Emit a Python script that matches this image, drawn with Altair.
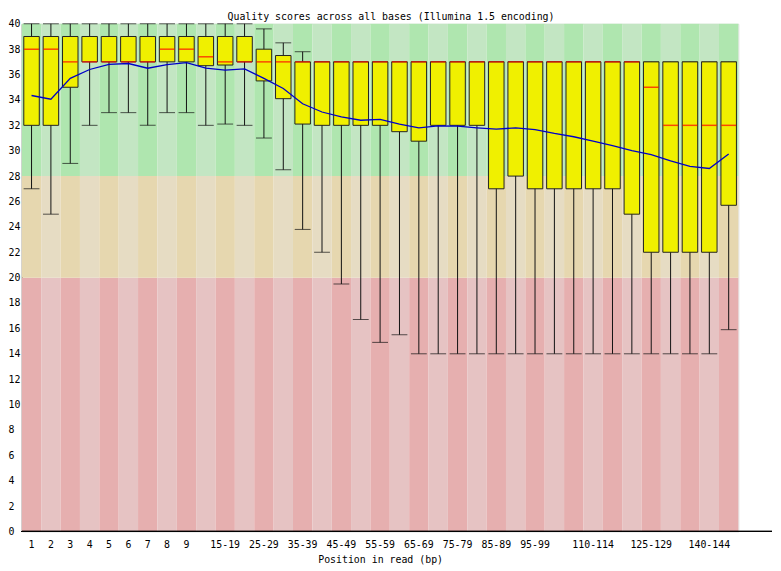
import json
import altair as alt
import pandas as pd

# ---------------- data ----------------
positions = ["1", "2", "3", "4", "5", "6", "7", "8", "9",
             "10-14", "15-19", "20-24", "25-29", "30-34", "35-39", "40-44",
             "45-49", "50-54", "55-59", "60-64", "65-69", "70-74", "75-79",
             "80-84", "85-89", "90-94", "95-99", "100-104", "105-109",
             "110-114", "115-119", "120-124", "125-129", "130-134",
             "135-139", "140-144", "145-149"]

shown_labels = ["1", "2", "3", "4", "5", "6", "7", "8", "9", "15-19", "25-29",
                "35-39", "45-49", "55-59", "65-69", "75-79", "85-89", "95-99",
                "110-114", "125-129", "140-144"]

lower = [27, 25, 29, 32, 33, 33, 32, 33, 33, 32, 32.1, 32, 31, 28.5, 23.8, 22,
         19.5, 16.7, 14.9, 15.5, 14, 14, 14, 14, 14, 14, 14, 14, 14, 14, 14,
         14, 14, 14, 14, 14, 15.9]
q1 = [32, 32, 35, 37, 37, 37, 37, 37, 37, 36.7, 36.75, 37, 35.5, 34.1, 32.1, 32,
      32, 32, 32, 31.5, 30.75, 32, 32, 32, 27, 28, 27, 27, 27, 27, 27,
      25, 22, 22, 22, 22, 25.7]
median = [38, 38, 37, 37, 37, 37, 37, 38, 38, 37.4, 37, 37, 37, 37, 37, 37,
          37, 37, 37, 37, 37, 37, 37, 37, 37, 37, 37, 37, 37, 37, 37,
          37, 35, 32, 32, 32, 32]
q3 = [39, 39, 39, 39, 39, 39, 39, 39, 39, 39, 39, 39, 38, 37.5, 37, 37,
      37, 37, 37, 37, 37, 37, 37, 37, 37, 37, 37, 37, 37, 37, 37,
      37, 37, 37, 37, 37, 37]
upper = [40, 40, 40, 40, 40, 40, 40, 40, 40, 40, 40, 40, 39.6, 38.5, 37.8, 37,
         37, 37, 37, 37, 37, 37, 37, 37, 37, 37, 37, 37, 37, 37, 37,
         37, 37, 37, 37, 37, 37]
mean = [34.35, 34.06, 35.7, 36.4, 36.8, 36.87, 36.5, 36.79, 36.94, 36.5, 36.35,
        36.45, 35.7, 34.9, 33.7, 33.05, 32.66, 32.4, 32.47, 32.1, 31.8, 31.95,
        31.93, 31.8, 31.7, 31.8, 31.67, 31.36, 31.1, 30.76, 30.4, 30.0, 29.7,
        29.2, 28.76, 28.6, 29.75]

zone_names = ["bad", "ok", "good"]
zone_low = [0, 20, 28]
zone_high = [20, 28, 40]
zone_keys = ["good_dark", "good_light", "ok_dark", "ok_light", "bad_dark", "bad_light"]
zone_colors = ["#afe6af", "#c3e6c3", "#e6d7af", "#e6dcc3", "#e6afaf", "#e6c3c3"]

title_text = "Quality scores across all bases (Illumina 1.5 encoding)"
x_title = "Position in read (bp)"

# ---------------- tables ----------------
df = pd.DataFrame({"pos": positions, "lower": lower, "q1": q1, "median": median,
                   "q3": q3, "upper": upper, "mean": mean})

bg_rows = []
for i, p in enumerate(positions):
    shade = "dark" if i % 2 == 0 else "light"
    for z, lo, hi in zip(zone_names, zone_low, zone_high):
        bg_rows.append({"pos": p, "y0": lo, "y1": hi, "zone": f"{z}_{shade}"})
bg = pd.DataFrame(bg_rows)

W, H = 724, 513
FONT = "DejaVu Sans Mono"
label_expr = f"indexof({json.dumps(shown_labels)}, datum.value) >= 0 ? datum.value : ''".replace('"', "'")

xscale = alt.Scale(paddingInner=0, paddingOuter=0)
yscale = alt.Scale(domain=[0, 40], nice=False, zero=True)

x_axis = alt.Axis(title=x_title, labelExpr=label_expr, labelAngle=0,
                  ticks=False, domain=False, labelPadding=8,
                  titlePadding=5, labelFont=FONT, titleFont=FONT,
                  labelFontSize=10, titleFontSize=10, labelColor="black",
                  titleColor="black", titleFontWeight="normal",
                  labelOverlap=False)
y_axis = alt.Axis(title=None, values=list(range(0, 41, 2)), ticks=False,
                  grid=False, labelAlign="left", labelPadding=14,
                  labelFont=FONT, labelFontSize=10, labelColor="black",
                  domainColor="black", domainWidth=1)


def X():
    return alt.X("pos:N", sort=positions, scale=xscale, axis=x_axis)


def Y(field):
    return alt.Y(field, scale=yscale, axis=y_axis)


background = alt.Chart(bg).mark_rect().encode(
    x=X(), y=Y("y0:Q"), y2="y1:Q",
    color=alt.Color("zone:N", scale=alt.Scale(domain=zone_keys, range=zone_colors),
                    legend=None),
)

whisker = alt.Chart(df).mark_rule(color="#111111", strokeWidth=1).encode(
    x=X(), y=Y("lower:Q"), y2="upper:Q")

cap_low = alt.Chart(df).mark_tick(color="#111111", thickness=1, size=16).encode(
    x=X(), y=Y("lower:Q"))
cap_high = alt.Chart(df).mark_tick(color="#111111", thickness=1, size=16).encode(
    x=X(), y=Y("upper:Q"))

box = alt.Chart(df).mark_bar(width=alt.RelativeBandSize(0.8), fill="#f0f000",
                             stroke="#222222", strokeWidth=1).encode(
    x=X(), y=Y("q1:Q"), y2="q3:Q")

med = alt.Chart(df).mark_tick(color="#ff0000", thickness=1.5, size=15).encode(
    x=X(), y=Y("median:Q"))

mean_line = alt.Chart(df).mark_line(color="#0000c8", strokeWidth=1.3).encode(
    x=X(), y=Y("mean:Q"))

x_line = alt.Chart(df).mark_rule(color="black", strokeWidth=1).encode(
    x=alt.value(0), x2=alt.value(W + 34), y=alt.value(H))

title_mark = alt.Chart(pd.DataFrame({"t": [title_text]})).mark_text(
    font=FONT, fontSize=10, color="black", align="center", baseline="alphabetic"
).encode(x=alt.value(W / 2 + 11), y=alt.value(-4), text="t:N")

chart = alt.layer(background, whisker, cap_low, cap_high, box, med, mean_line,
                  x_line, title_mark).properties(
    width=W, height=H,
    autosize=alt.AutoSizeParams(type="none"),
    padding={"left": 14, "top": 13, "right": 35, "bottom": 40},
).configure_view(stroke=None).configure(background="white")

chart.save("out.html", embed_options={"renderer": "svg", "actions": False})
